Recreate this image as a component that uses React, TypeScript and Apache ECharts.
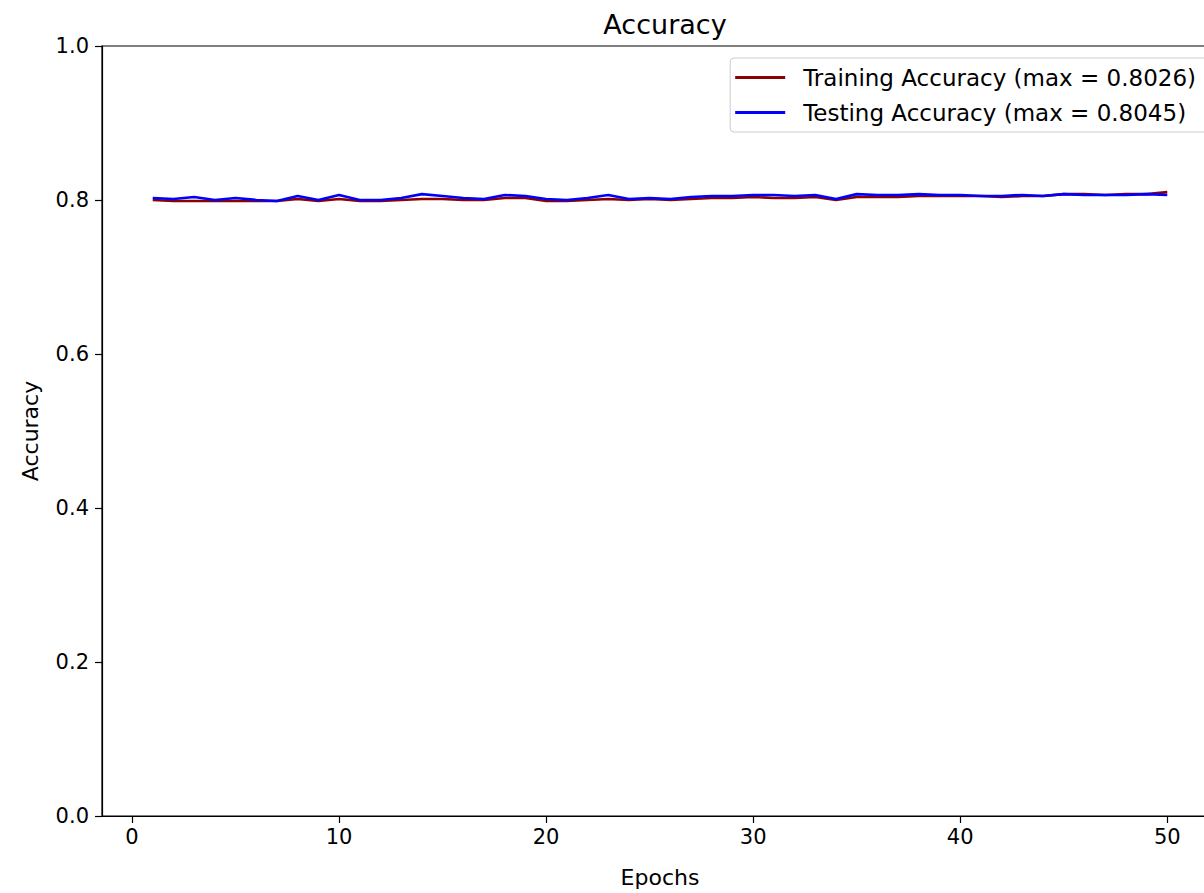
import React, { useEffect, useRef } from "react";
import * as echarts from "echarts";

const epochs = Array.from({ length: 50 }, (_, i) => i + 1);
const trainingAcc = [
  0.8000, 0.7987, 0.7987, 0.7987, 0.7987, 0.7987, 0.7987, 0.8013, 0.7987, 0.8013,
  0.7987, 0.7987, 0.8000, 0.8013, 0.8013, 0.8000, 0.8000, 0.8026, 0.8026, 0.7987,
  0.7987, 0.8000, 0.8013, 0.8000, 0.8013, 0.8000, 0.8013, 0.8026, 0.8026, 0.8039,
  0.8026, 0.8026, 0.8039, 0.8000, 0.8039, 0.8039, 0.8039, 0.8052, 0.8052, 0.8052,
  0.8052, 0.8039, 0.8052, 0.8052, 0.8077, 0.8077, 0.8065, 0.8077, 0.8077, 0.8103,
];
const testingAcc = [
  0.8026, 0.8013, 0.8039, 0.8000, 0.8026, 0.8000, 0.7987, 0.8052, 0.8000, 0.8065,
  0.8000, 0.8000, 0.8026, 0.8077, 0.8052, 0.8026, 0.8013, 0.8065, 0.8052, 0.8013,
  0.8000, 0.8026, 0.8065, 0.8013, 0.8026, 0.8013, 0.8039, 0.8052, 0.8052, 0.8065,
  0.8065, 0.8052, 0.8065, 0.8013, 0.8077, 0.8065, 0.8065, 0.8077, 0.8065, 0.8065,
  0.8052, 0.8052, 0.8065, 0.8052, 0.8077, 0.8065, 0.8065, 0.8065, 0.8077, 0.8065,
];
const xTicks = [0, 10, 20, 30, 40, 50];
const trainingName = "Training Accuracy (max = 0.8026)";
const testingName = "Testing Accuracy (max = 0.8045)";

const FONT = "DejaVu Sans";

export default function App() {
  const ref = useRef<HTMLDivElement>(null);
  useEffect(() => {
    if (!ref.current) return;
    const chart = echarts.init(ref.current, null, { renderer: "svg" });
    chart.setOption({
      animation: false,
      backgroundColor: "#ffffff",
      title: {
        text: "Accuracy",
        left: 660,
        textAlign: "center",
        top: 6,
        textStyle: { fontFamily: FONT, fontSize: 27, fontWeight: "normal", color: "#000" },
      },
      legend: {
        orient: "vertical",
        right: 42,
        top: 58,
        padding: [8, 12, 8, 5],
        itemGap: 12,
        itemWidth: 50,
        itemHeight: 3,
        icon: "rect",
        borderColor: "#cccccc",
        borderWidth: 1,
        borderRadius: 4,
        backgroundColor: "rgba(255,255,255,0.8)",
        textStyle: { fontFamily: FONT, fontSize: 23, color: "#000", padding: [0, 0, 0, 13] },
        data: [trainingName, testingName],
      },
      grid: {
        left: 102,
        top: 46,
        width: 1116,
        height: 775,
        show: true,
        borderColor: "#000",
        borderWidth: 1.2,
        backgroundColor: "transparent",
        containLabel: false,
      },
      xAxis: {
        type: "value",
        min: -1.45,
        max: 52.45,
        name: "Epochs",
        nameLocation: "middle",
        nameGap: 50,
        nameTextStyle: { fontFamily: FONT, fontSize: 22, color: "#000" },
        axisLine: { show: true, onZero: false, lineStyle: { color: "#000", width: 1.2 } },
        axisTick: { show: true, customValues: xTicks, length: 7, lineStyle: { color: "#000", width: 1.2 } },
        axisLabel: {
          customValues: xTicks,
          fontFamily: FONT,
          fontSize: 21,
          color: "#000",
          margin: 10,
        },
        splitLine: { show: false },
      },
      yAxis: {
        type: "value",
        min: 0,
        max: 1,
        interval: 0.2,
        name: "Accuracy",
        nameLocation: "middle",
        nameGap: 61,
        nameTextStyle: { fontFamily: FONT, fontSize: 22, color: "#000" },
        axisLine: { show: true, onZero: false, lineStyle: { color: "#000", width: 1.2 } },
        axisTick: { show: true, length: 7, lineStyle: { color: "#000", width: 1.2 } },
        axisLabel: {
          fontFamily: FONT,
          fontSize: 21,
          color: "#000",
          margin: 13,
          formatter: (v: number) => v.toFixed(1),
        },
        splitLine: { show: false },
      },
      series: [
        {
          name: trainingName,
          type: "line",
          data: epochs.map((e, i) => [e, trainingAcc[i]]),
          showSymbol: false,
          lineStyle: { color: "#8b0000", width: 2.7 },
          itemStyle: { color: "#8b0000" },
        },
        {
          name: testingName,
          type: "line",
          data: epochs.map((e, i) => [e, testingAcc[i]]),
          showSymbol: false,
          lineStyle: { color: "#0000ff", width: 2.7 },
          itemStyle: { color: "#0000ff" },
        },
      ],
    });
    return () => chart.dispose();
  }, []);
  return (
    <div style={{ position: "absolute", left: 0, top: 0, width: 1204, height: 893, overflow: "hidden", background: "#fff" }}>
      <div ref={ref} style={{ width: 1250, height: 893 }} />
    </div>
  );
}
